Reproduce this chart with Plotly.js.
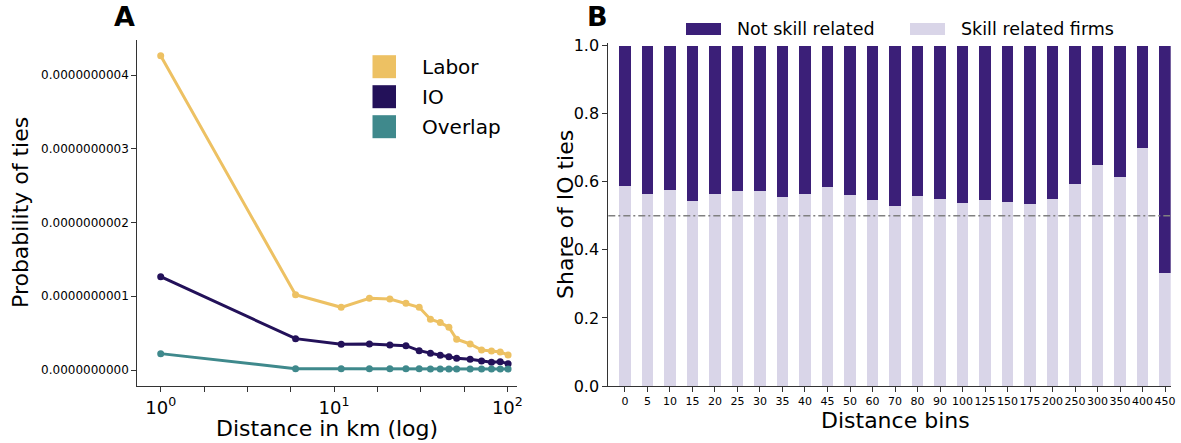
<!DOCTYPE html>
<html>
<head>
<meta charset="utf-8">
<script src="https://cdn.plot.ly/plotly-3.0.1.min.js"></script>
<style>html,body{margin:0;padding:0;background:#fff;}#chart{width:1181px;height:443px;}</style>
</head>
<body>
<div id="chart"></div>
<script>
// ---- Panel A data ----
const distanceKm = [1, 6, 11, 16, 21, 26, 31, 36, 41, 46, 51, 61, 71, 81, 91, 101];
const laborProb = [4.26e-10, 1.02e-10, 0.85e-10, 0.972e-10, 0.963e-10, 0.905e-10, 0.85e-10, 0.688e-10, 0.643e-10, 0.58e-10, 0.417e-10, 0.353e-10, 0.271e-10, 0.258e-10, 0.244e-10, 0.204e-10];
const ioProb = [1.266e-10, 0.425e-10, 0.348e-10, 0.353e-10, 0.339e-10, 0.33e-10, 0.262e-10, 0.226e-10, 0.199e-10, 0.181e-10, 0.158e-10, 0.145e-10, 0.122e-10, 0.104e-10, 0.113e-10, 0.086e-10];
const overlapProb = [0.222e-10, 0.018e-10, 0.017e-10, 0.017e-10, 0.017e-10, 0.016e-10, 0.016e-10, 0.015e-10, 0.015e-10, 0.014e-10, 0.014e-10, 0.013e-10, 0.013e-10, 0.012e-10, 0.012e-10, 0.012e-10];
const seriesNamesA = ["Labor", "IO", "Overlap"];

// ---- Panel B data ----
const distanceBins = ["0","5","10","15","20","25","30","35","40","45","50","60","70","80","90","100","125","150","175","200","250","300","350","400","450"];
const skillRelated = [0.588,0.565,0.576,0.544,0.563,0.572,0.574,0.555,0.563,0.585,0.561,0.546,0.529,0.557,0.550,0.538,0.547,0.541,0.534,0.549,0.593,0.650,0.613,0.700,0.333];
const notSkillRelated = [0.412,0.435,0.424,0.456,0.437,0.428,0.426,0.445,0.437,0.415,0.439,0.454,0.471,0.443,0.450,0.462,0.453,0.459,0.466,0.451,0.407,0.350,0.387,0.300,0.667];
const seriesNamesB = ["Not skill related", "Skill related firms"];

// ---- styling ----
const W = 1181, H = 443;
const FONT = "DejaVu Sans, sans-serif";
const colA = ["#EDC163", "#231159", "#3F898C"];
const colB = ["#3B1F78", "#D9D5E8"];
const px = v => v / W;
const py = v => (H - v) / H;

const traces = [];
[laborProb, ioProb, overlapProb].forEach((ys, i) => {
  traces.push({
    type: "scatter", mode: "lines+markers", x: distanceKm, y: ys, name: seriesNamesA[i],
    xaxis: "x", yaxis: "y", showlegend: false,
    line: {color: colA[i], width: 3}, marker: {color: colA[i], size: 7}
  });
});
traces.push({type: "bar", x: distanceBins, y: skillRelated, name: seriesNamesB[1], xaxis: "x2", yaxis: "y2",
  marker: {color: colB[1], line: {width: 0}}, showlegend: false});
traces.push({type: "bar", x: distanceBins, y: notSkillRelated, name: seriesNamesB[0], xaxis: "x2", yaxis: "y2",
  marker: {color: colB[0], line: {width: 0}}, showlegend: false});

// log ticks every quarter decade, labelled at decades
const tv = [], tt = [];
for (let k = 0; k <= 8; k++) {
  tv.push(Math.pow(10, k / 4));
  tt.push(k % 4 === 0 ? "10<sup>" + (k / 4) + "</sup>" : "");
}

const axisCommon = {showline: true, linecolor: "#333", linewidth: 1, ticks: "outside", ticklen: 5, tickwidth: 1,
  tickcolor: "#333", showgrid: false, zeroline: false, automargin: false};

function ann(text, x, y, size, extra) {
  return Object.assign({text: text, x: px(x), y: py(y), xref: "paper", yref: "paper", xanchor: "center", yanchor: "middle",
    showarrow: false, font: {family: FONT, size: size, color: "#000"}}, extra || {});
}
const annotations = [
  ann("<b>A</b>", 124.5, 17, 27),
  ann("<b>B</b>", 597, 17, 27),
  ann("Probability of ties", 21, 213, 22, {textangle: -90}),
  ann("Distance in km (log)", 327, 428, 22),
  ann("Share of IO ties", 565, 215, 22, {textangle: -90}),
  ann("Distance bins", 895, 420, 22)
];
const shapes = [
  {type: "line", xref: "x2 domain", yref: "y2", x0: 0, x1: 1, y0: 0.5, y1: 0.5,
   line: {color: "#808080", width: 1.5, dash: "7px,3px,2px,3px"}, layer: "above"}
];
// legend A (custom square patches)
seriesNamesA.forEach((n, i) => {
  const cy = 66.7 + 30 * i;
  shapes.push({type: "rect", xref: "paper", yref: "paper", x0: px(372.5), x1: px(396), y0: py(cy - 11.5), y1: py(cy + 11.5),
    fillcolor: colA[i], line: {width: 0}});
  annotations.push(ann(n, 420, cy, 20, {xanchor: "left"}));
});
// legend B
const legBx = [686, 910];
seriesNamesB.forEach((n, i) => {
  shapes.push({type: "rect", xref: "paper", yref: "paper", x0: px(legBx[i]), x1: px(legBx[i] + 35), y0: py(35), y1: py(23),
    fillcolor: colB[i], line: {width: 0}});
  annotations.push(ann(n, legBx[i] + 49, 29, 17.5, {xanchor: "left"}));
});

const layout = {
  width: W, height: H, margin: {l: 0, r: 0, t: 0, b: 0}, paper_bgcolor: "#fff", plot_bgcolor: "#fff",
  font: {family: FONT, color: "#000"}, showlegend: false, barmode: "stack", bargap: 0.5,
  xaxis: Object.assign({}, axisCommon, {type: "log", domain: [px(137.3), px(516.7)], range: [-0.135, 2.054],
    tickmode: "array", tickvals: tv, ticktext: tt, tickfont: {family: FONT, size: 18}, anchor: "y"}),
  yaxis: Object.assign({}, axisCommon, {domain: [py(386), py(40)], range: [-0.217e-10, 4.475e-10],
    tickmode: "linear", tick0: 0, dtick: 1e-10, tickformat: ".10f", tickfont: {family: FONT, size: 12}, anchor: "x"}),
  xaxis2: Object.assign({}, axisCommon, {type: "category", domain: [px(608.3), px(1170.7)], range: [-0.74, 24.25],
    tickfont: {family: FONT, size: 11}, tickangle: 0, anchor: "y2"}),
  yaxis2: Object.assign({}, axisCommon, {domain: [py(386), py(43)], range: [0, 1.008],
    tickmode: "linear", tick0: 0, dtick: 0.2, tickformat: ".1f", tickfont: {family: FONT, size: 16}, anchor: "x2"}),
  annotations: annotations, shapes: shapes
};

Plotly.newPlot("chart", traces, layout, {displayModeBar: false, staticPlot: true});
</script>
</body>
</html>
